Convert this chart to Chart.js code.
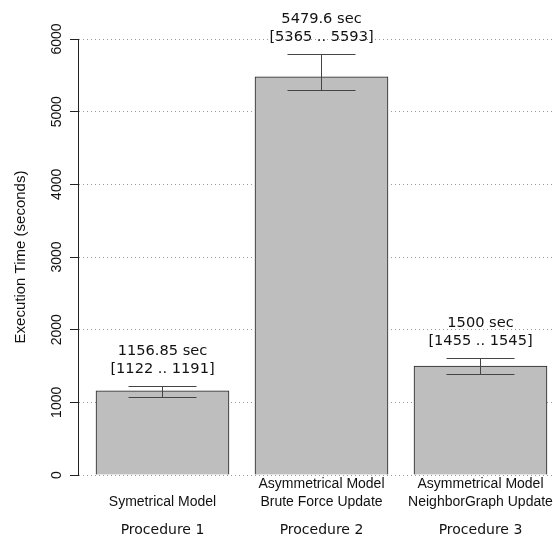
<!DOCTYPE html>
<html>
<head>
<meta charset="utf-8">
<script src="https://cdn.jsdelivr.net/npm/chart.js@4"></script>
<style>
  body { margin: 0; background: #fff; overflow: hidden; }
  canvas { display: block; }
</style>
</head>
<body>
<canvas id="chart" width="553" height="542"></canvas>
<script>
// values
const categories = [
  ["Symetrical Model"],
  ["Asymmetrical Model", "Brute Force Update"],
  ["Asymmetrical Model", "NeighborGraph Update"]
];
const procedures = ["Procedure 1", "Procedure 2", "Procedure 3"];
const times = [1156.85, 5479.6, 1500];
const intervalLow = [1122, 5365, 1455];
const intervalHigh = [1191, 5593, 1545];
const errLow = [1070, 5292, 1395];
const errHigh = [1230, 5797, 1615];
const yTicks = [0, 1000, 2000, 3000, 4000, 5000, 6000];

const positions = times.map((t, i) => ({ x: i + 1, y: t }));

// error bars + the text above them
const errorBars = {
  id: 'errorBars',
  afterDatasetsDraw(chart) {
    const ctx = chart.ctx;
    const y = chart.scales.y;
    const meta = chart.getDatasetMeta(0);
    ctx.save();
    meta.data.forEach((bar, i) => {
      const x = Math.round(bar.x) + 0.5;
      const top = Math.round(y.getPixelForValue(errHigh[i])) + 0.5;
      const bot = Math.round(y.getPixelForValue(errLow[i])) + 0.5;
      ctx.strokeStyle = '#444';
      ctx.lineWidth = 1;
      ctx.beginPath();
      ctx.moveTo(x, top); ctx.lineTo(x, bot);
      ctx.moveTo(x - 34, top); ctx.lineTo(x + 34, top);
      ctx.moveTo(x - 34, bot); ctx.lineTo(x + 34, bot);
      ctx.stroke();

      ctx.fillStyle = '#111';
      ctx.font = '14.6px "DejaVu Sans"';
      ctx.textAlign = 'center';
      ctx.textBaseline = 'middle';
      ctx.fillText(times[i] + ' sec', x, top - 35);
      ctx.fillText('[' + intervalLow[i] + ' .. ' + intervalHigh[i] + ']', x, top - 17);
    });
    ctx.restore();
  }
};

new Chart(document.getElementById('chart'), {
  type: 'bar',
  data: {
    datasets: [{
      data: positions,
      backgroundColor: '#bebebe',
      borderColor: '#222',
      borderWidth: 1,
      barThickness: 133
    }]
  },
  options: {
    responsive: false,
    animation: false,
    devicePixelRatio: 1,
    layout: { padding: { top: 39, left: 0, right: 0, bottom: 0 } },
    plugins: { legend: { display: false }, tooltip: { enabled: false } },
    scales: {
      x: {
        type: 'linear',
        position: 'bottom',
        offset: false,
        weight: 0,
        min: 0.4686,
        max: 3.456,
        grid: { display: false, drawTicks: false },
        border: { display: false },
        afterBuildTicks: s => { s.ticks = categories.map((c, i) => ({ value: i + 1 })); },
        afterFit: s => { s.height = 35; s.paddingLeft = 0; s.paddingRight = 0; },
        ticks: {
          autoSkip: false,
          maxRotation: 0,
          minRotation: 0,
          crossAlign: 'far',
          padding: 9,
          color: '#111',
          font: { family: 'Liberation Sans', size: 14, lineHeight: 18 / 14 },
          callback: v => categories[v - 1]
        }
      },
      x2: {
        type: 'linear',
        position: 'bottom',
        offset: false,
        weight: 1,
        min: 0.4686,
        max: 3.456,
        grid: { display: false, drawTicks: false },
        border: { display: false },
        afterBuildTicks: s => { s.ticks = procedures.map((p, i) => ({ value: i + 1 })); },
        afterFit: s => { s.height = 32; s.paddingLeft = 0; s.paddingRight = 0; },
        ticks: {
          autoSkip: false,
          maxRotation: 0,
          minRotation: 0,
          padding: 12,
          color: '#111',
          font: { family: 'DejaVu Sans', size: 14 },
          callback: v => procedures[v - 1]
        }
      },
      y: {
        min: 0,
        max: 6000,
        afterBuildTicks: s => { s.ticks = yTicks.map(v => ({ value: v })); },
        afterFit: s => { s.width = 78; s.paddingTop = 0; s.paddingBottom = 0; },
        grid: {
          color: '#999',
          tickColor: '#222',
          tickBorderDash: [],
          tickLength: 8
        },
        border: { display: true, color: '#222', width: 1, dash: [1, 3] },
        ticks: {
          minRotation: 90,
          maxRotation: 90,
          crossAlign: 'center',
          padding: -3,
          color: '#111',
          font: { family: 'Liberation Sans', size: 14 },
          callback: v => String(v)
        },
        title: {
          display: true,
          text: 'Execution Time (seconds)',
          color: '#111',
          font: { family: 'Liberation Sans', size: 15 },
          padding: { top: 12, bottom: 0 }
        }
      }
    }
  },
  plugins: [errorBars]
});
</script>
</body>
</html>
